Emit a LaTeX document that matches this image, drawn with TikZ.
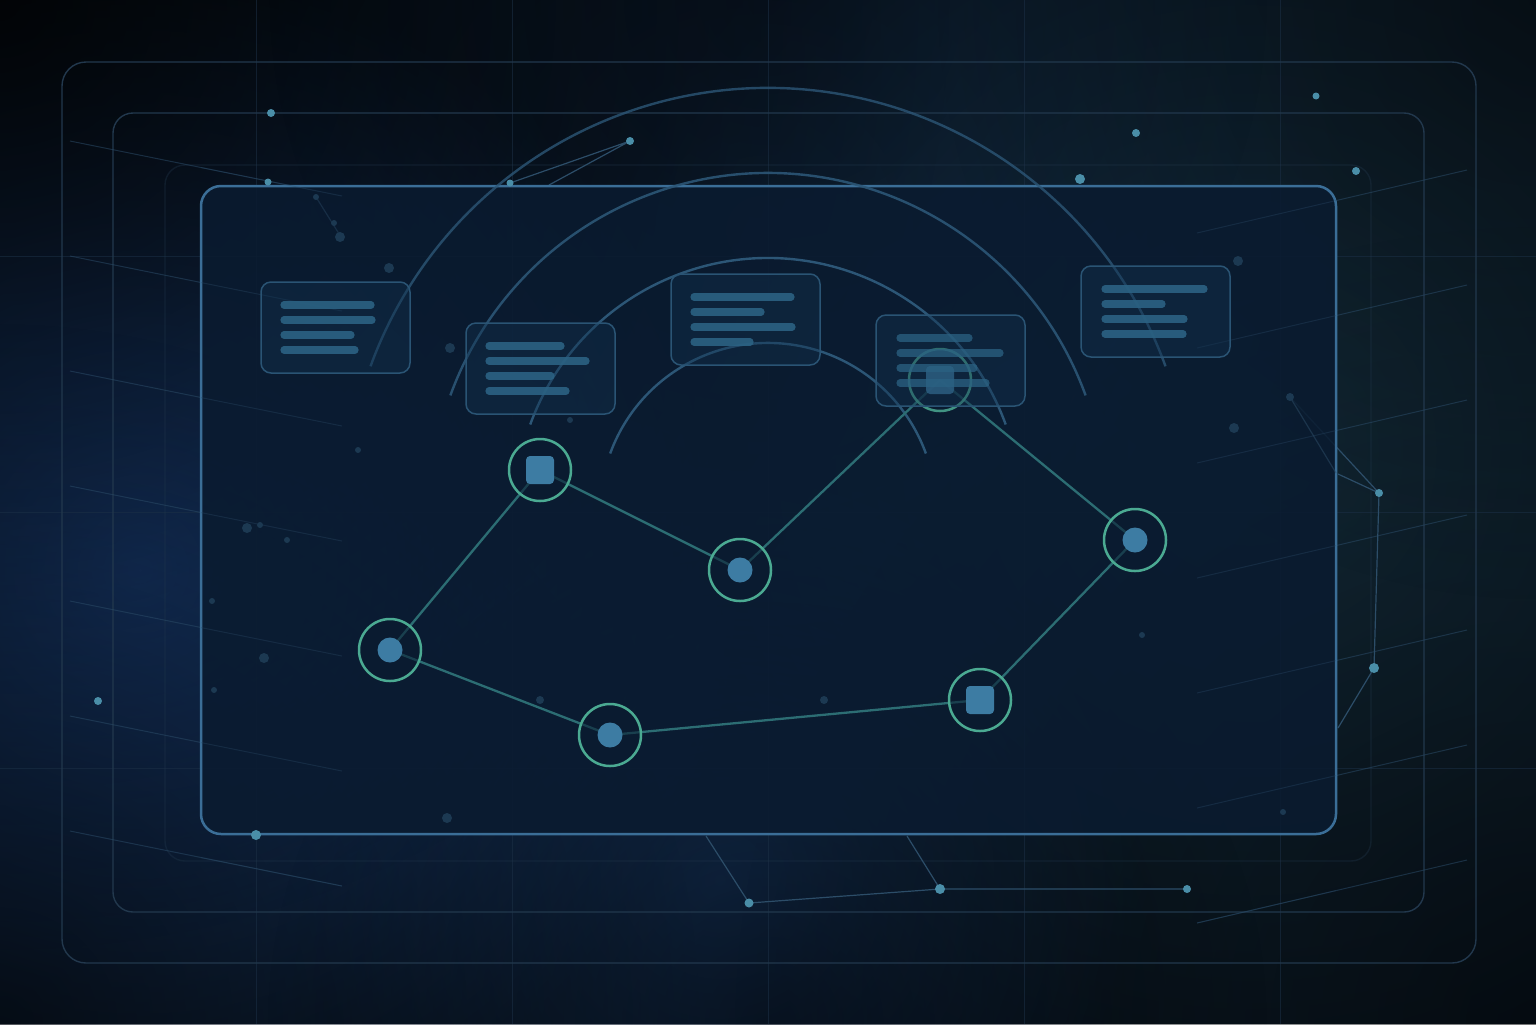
\documentclass[tikz,border=0pt]{standalone}
\usetikzlibrary{fadings}
\tikzfading[name=glowfade, inner color=transparent!0, outer color=transparent!100]
\definecolor{bgbase}{HTML}{0A1520}
\definecolor{glowblue}{HTML}{1A3F72}
\definecolor{glowleft}{HTML}{1D4684}
\definecolor{glowteal}{HTML}{16303F}
\definecolor{gridcol}{HTML}{1C3046}
\definecolor{framecol}{HTML}{22384D}
\definecolor{panelfill}{HTML}{0A1B30}
\definecolor{paneledge}{HTML}{3B6E97}
\definecolor{arccol}{HTML}{2C5676}
\definecolor{cardfill}{HTML}{12324F}
\definecolor{cardedge}{HTML}{2A5474}
\definecolor{barcol}{HTML}{2B6283}
\definecolor{edgecol}{HTML}{2C6D73}
\definecolor{ringcol}{HTML}{4BAA92}
\definecolor{coreblue}{HTML}{3D7CA3}
\definecolor{dotbright}{HTML}{4A8EA8}
\definecolor{dotdim}{HTML}{1C3952}
\definecolor{constline}{HTML}{2C4D68}
\definecolor{diagcol}{HTML}{2A4A66}
\begin{document}
\begin{tikzpicture}[x=0.5pt,y=-0.5pt,
  gridline/.style={draw=gridcol, line width=0.5pt, draw opacity=0.55},
  frameline/.style={draw=framecol, line width=0.7pt},
  diagline/.style={draw=diagcol, line width=0.5pt, draw opacity=0.55},
  arcline/.style={draw=arccol, line width=1.2pt},
  card/.style={draw=cardedge, line width=0.75pt, fill=cardfill, fill opacity=0.4, rounded corners=5pt},
  bar/.style={draw=barcol, line width=3.6pt, line cap=round, draw opacity=0.9},
  edgeline/.style={draw=edgecol, line width=1.15pt},
  ring/.style={circle, draw=ringcol, line width=1.25pt, fill=panelfill, fill opacity=0.55, minimum size=31pt, inner sep=0pt},
  coredot/.style={circle, fill=coreblue, minimum size=12.5pt, inner sep=0pt},
  coresq/.style={rectangle, rounded corners=2pt, fill=coreblue, minimum size=14pt, inner sep=0pt},
  cline/.style={draw=constline, line width=0.6pt}
]
\useasboundingbox (0,0) rectangle (1536,1024);
% background
\fill[bgbase] (0,0) rectangle (1536,1024);
\fill[glowteal, path fading=glowfade, fill opacity=0.9] (1250,450) circle (700);
\fill[glowleft, path fading=glowfade, fill opacity=1] (140,570) circle (600);
\fill[glowblue, path fading=glowfade, fill opacity=0.65] (720,880) circle (420);
\fill[glowblue, path fading=glowfade, fill opacity=0.3] (760,230) circle (600);
\fill[black, path fading=glowfade, fill opacity=0.8] (0,0) circle (950);
\fill[black, path fading=glowfade, fill opacity=0.6] (0,1024) circle (700);
\fill[black, path fading=glowfade, fill opacity=0.5] (1536,1024) circle (800);
\fill[black, path fading=glowfade, fill opacity=0.45] (1536,0) circle (600);
\fill[black, path fading=glowfade, fill opacity=0.5] (768,1024) circle (500);
\fill[black, path fading=glowfade, fill opacity=0.35] (768,0) circle (500);
% grid
\foreach \gx in {256,512,768,1024,1280} \draw[gridline] (\gx,0) -- (\gx,1024);
\foreach \gy in {256,512,768} \draw[gridline] (0,\gy) -- (1536,\gy);
% nested frames
\draw[frameline, rounded corners=12pt] (62,62) rectangle (1476,963);
\draw[frameline, rounded corners=10pt] (113,113) rectangle (1424,912);
\draw[frameline, draw opacity=0.35, rounded corners=10pt] (165,165) rectangle (1371,861);
% diagonal lines
\foreach \dy in {141,256,371,486,601,716,831} \draw[diagline] (70,\dy) -- (342,\dy+55);
\foreach \dy in {233,348,463,578,693,808,923} \draw[diagline] (1197,\dy) -- (1467,\dy-63);
% constellation outside
\coordinate (p1) at (271,113);
\coordinate (p2) at (268,182);
\coordinate (p3) at (510,183);
\coordinate (p4) at (630,141);
\coordinate (p5) at (549,185);
\coordinate (p6) at (1080,179);
\coordinate (p7) at (1136,133);
\coordinate (p8) at (1316,96);
\coordinate (p9) at (1356,171);
\coordinate (q1) at (1290,397);
\coordinate (q2) at (1379,493);
\coordinate (q3) at (1338,474);
\coordinate (q4) at (1374,668);
\coordinate (q5) at (1338,728);
\coordinate (r1) at (706,836);
\coordinate (r2) at (749,903);
\coordinate (r3) at (907,836);
\coordinate (r4) at (940,889);
\coordinate (r5) at (1187,889);
\coordinate (s1) at (98,701);
\coordinate (s2) at (256,835);
\draw[cline] (p3) -- (p4) (p5) -- (p4);
\draw[cline] (q1) -- (q2) (q3) -- (q2) (q2) -- (q4) -- (q5);
\draw[cline] (r1) -- (r2) -- (r4) -- (r5) (r3) -- (r4);
% panel
\draw[draw=paneledge, line width=1.25pt, fill=panelfill, fill opacity=0.86, rounded corners=10pt] (201,186) rectangle (1336,834);
% lines visible inside panel
\foreach \dy in {141,256,371,486,601,716,831} \draw[diagline, draw opacity=0.3] (201,{\dy+0.2029*131}) -- (342,\dy+55);
\foreach \dy in {233,348,463,578,693,808,923} \draw[diagline, draw opacity=0.3] (1197,\dy) -- (1336,{\dy-0.2333*139});
\draw[cline, draw opacity=0.5] (q1) -- (1336,473);
\draw[cline, draw opacity=0.4] (316,197) -- (341,237);
% dim dots inside panel
\foreach \ddx/\ddy/\ddr in {340/237/5,316/197/3,334/223/3,389/268/5,450/348/5,358/450/3,247/528/5,260/525/3,287/540/3,212/601/3,264/658/5,214/690/3,540/700/4,447/818/5,824/700/4,1142/635/3,1234/428/5,1238/261/5,1290/397/4,1283/812/3,570/420/3}
  \fill[dotdim] (\ddx,\ddy) circle (\ddr);
% arcs
\draw[arcline, draw opacity=0.8] (1165.5,366.3) arc[start angle=-20, end angle=-160, radius=423];
\draw[arcline, draw opacity=0.9] (1085.6,395.4) arc[start angle=-20, end angle=-160, radius=338];
\draw[arcline] (1005.7,424.5) arc[start angle=-20, end angle=-160, radius=253];
\draw[arcline] (925.9,453.5) arc[start angle=-20, end angle=-160, radius=168];
% bright dots
\foreach \pp/\pr in {p1/4,p2/3.5,p3/3.5,p4/4,p6/5,p7/4,p8/3.5,p9/4,q2/4,q4/5,r2/4.5,r4/5,r5/4,s1/4,s2/5}
  \fill[dotbright] (\pp) circle (\pr);
% graph
\coordinate (c1) at (540,470);
\coordinate (c2) at (740,570);
\coordinate (c3) at (390,650);
\coordinate (c4) at (610,735);
\coordinate (c5) at (980,700);
\coordinate (c6) at (1135,540);
\coordinate (c7) at (940,380);
\draw[edgeline] (c3) -- (c1);
\draw[edgeline] (c1) -- (c2);
\draw[edgeline] (c2) -- (c7);
\draw[edgeline] (c7) -- (c6);
\draw[edgeline] (c6) -- (c5);
\draw[edgeline] (c5) -- (c4);
\draw[edgeline] (c4) -- (c3);
\node[ring] (n1) at (c1) {};
\node[coresq] (k1) at (c1) {};
\node[ring] (n2) at (c2) {};
\node[coredot] (k2) at (c2) {};
\node[ring] (n3) at (c3) {};
\node[coredot] (k3) at (c3) {};
\node[ring] (n4) at (c4) {};
\node[coredot] (k4) at (c4) {};
\node[ring] (n5) at (c5) {};
\node[coresq] (k5) at (c5) {};
\node[ring] (n6) at (c6) {};
\node[coredot] (k6) at (c6) {};
\node[ring, draw opacity=0.85] (n7) at (c7) {};
\node[coresq, fill opacity=0.85] (k7) at (c7) {};
% cards
\draw[card] (261,282) rectangle (410,373);
\foreach \by/\be in {305/375,320/376,335/355,350/359} \draw[bar] (284,\by) -- (\be-4,\by);
\draw[card] (466,323) rectangle (615,414);
\foreach \by/\be in {346/565,361/590,376/555,391/570} \draw[bar] (489,\by) -- (\be-4,\by);
\draw[card] (671,274) rectangle (820,365);
\foreach \by/\be in {297/795,312/765,327/796,342/754} \draw[bar] (694,\by) -- (\be-4,\by);
\draw[card] (876,315) rectangle (1025,406);
\foreach \by/\be in {338/973,353/1004,368/978,383/990} \draw[bar, draw opacity=0.75] (900,\by) -- (\be-4,\by);
\draw[card] (1081,266) rectangle (1230,357);
\foreach \by/\be in {289/1208,304/1166,319/1188,334/1187} \draw[bar] (1105,\by) -- (\be-4,\by);
\end{tikzpicture}
\end{document}
